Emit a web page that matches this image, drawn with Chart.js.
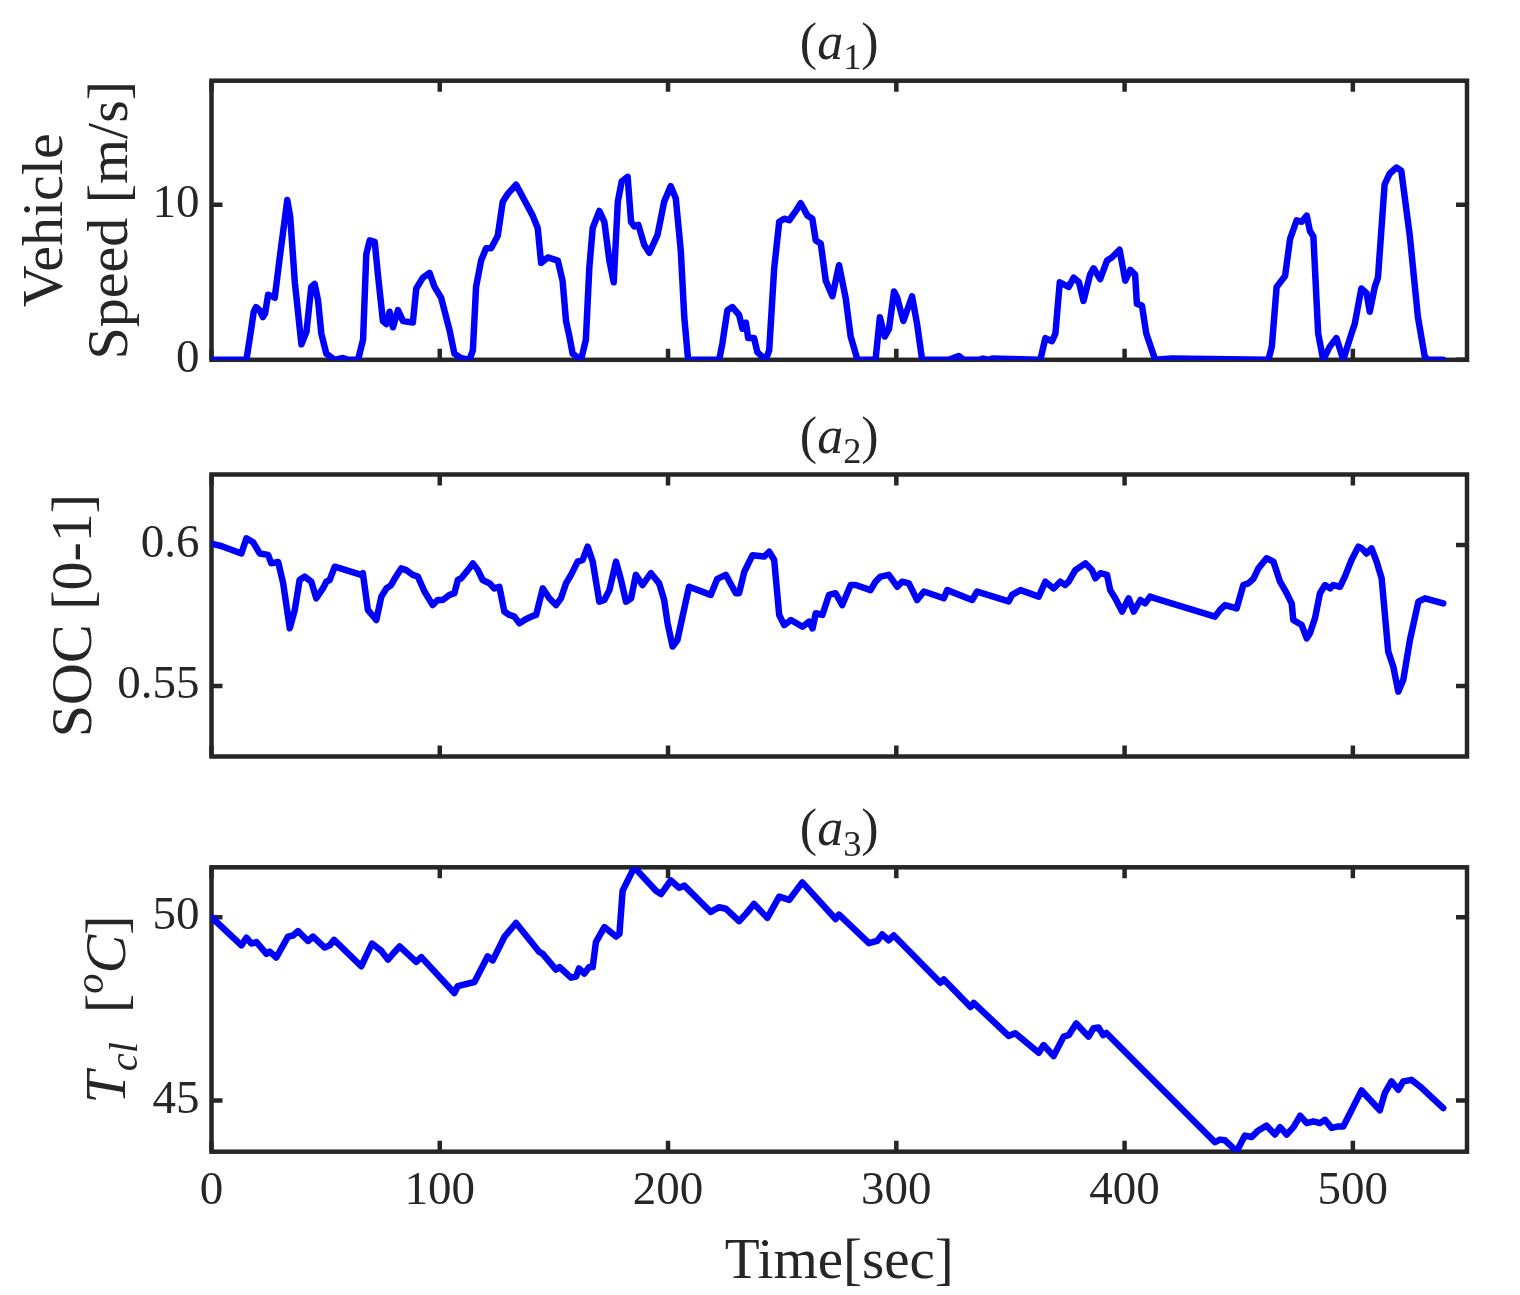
<!DOCTYPE html>
<html>
<head>
<meta charset="utf-8">
<script src="https://cdn.jsdelivr.net/npm/chart.js@4.4.1/dist/chart.umd.min.js"></script>
<style>
  html, body { margin: 0; padding: 0; background: #fff; }
  #page { position: relative; width: 1520px; height: 1295px; }
  .panel { position: absolute; left: 0; width: 1520px; }
</style>
</head>
<body>
<div id="page">
  <div class="panel" style="top:0;height:400px"><canvas id="chart01"></canvas></div>
  <div class="panel" style="top:400px;height:400px"><canvas id="chart02"></canvas></div>
  <div class="panel" style="top:800px;height:495px"><canvas id="chart03"></canvas></div>
</div>
<script>
// shared time axis
const timeTicks = [0, 100, 200, 300, 400, 500];

// (a1) vehicle speed [m/s]
const speedTime = [0, 15.3, 17.5, 18.5, 19.5, 21.1, 22.5, 23.5, 24.8, 26.5, 27.7, 29.9, 33.2, 34.5, 36.5, 39.4, 41.6, 43.7, 45.2, 46.7, 48.1, 50.3, 53.9, 57.6, 59.8, 64.2, 66.4, 67.8, 69.3, 71.5, 72.9, 75.1, 76.6, 78, 79.5, 81.7, 83.9, 88.2, 89.7, 92.6, 95.5, 97.7, 100.6, 104.3, 106.4, 109.4, 113, 114.5, 115.9, 118.1, 120.3, 122.5, 125.4, 127.6, 129.8, 133.4, 135.6, 137.8, 140.7, 142.9, 144.4, 147.3, 151.7, 153.8, 155.3, 156.8, 158.2, 161.9, 164, 165.5, 167, 169.9, 172.1, 174.3, 176.2, 178, 179.7, 182.3, 183.8, 185.2, 187, 189.6, 191.8, 195.4, 198.3, 201.2, 203.4, 205.6, 207.1, 208.8, 222.4, 223.8, 226, 228.2, 231.1, 232.6, 234.1, 235.1, 237.7, 239.1, 242.8, 244.3, 246.5, 248.7, 250.9, 253.1, 256, 258.1, 261.1, 263.2, 264.7, 266.9, 269.1, 272, 274.9, 277.8, 280, 283, 290.9, 292.8, 294.9, 296.8, 299, 300.4, 303.1, 306.9, 309.1, 311.3, 323, 327.3, 329.5, 336.1, 338, 340.5, 342, 363.1, 365.3, 368.2, 369.7, 371.6, 375.5, 377.7, 380, 382, 384.9, 386.4, 389.3, 392.3, 394.4, 397.8, 400.3, 402.5, 404.6, 405.4, 407.6, 409.5, 413.4, 420.7, 463, 464.5, 466.6, 470.3, 472.5, 475.4, 477.6, 479.8, 481.2, 482.7, 484.8, 487, 489.9, 492.8, 495.8, 499.4, 500.8, 503.7, 506, 507.4, 509.6, 511, 513.9, 516.1, 519.1, 521.2, 524.9, 528.5, 531.5, 532.9, 539.5];
const speedValue = [0, 0, 2.1, 3.1, 3.4, 3.2, 2.75, 3.0, 4.2, 4.1, 4.0, 6.6, 10.3, 9.2, 5.0, 1.0, 1.8, 4.7, 4.9, 3.8, 1.7, 0.4, 0, 0.12, 0, 0, 1.3, 6.8, 7.7, 7.6, 5.5, 2.5, 2.3, 3.1, 2.1, 3.2, 2.5, 2.4, 4.6, 5.3, 5.6, 4.7, 4.0, 1.9, 0.4, 0.1, 0, 0.6, 4.7, 6.4, 7.2, 7.2, 8.0, 10.2, 10.7, 11.3, 10.7, 10.1, 9.3, 8.5, 6.25, 6.6, 6.4, 5.1, 2.5, 1.5, 0.4, 0, 1.3, 5.9, 8.5, 9.6, 8.9, 6.4, 5.0, 10.2, 11.5, 11.8, 8.9, 8.6, 8.7, 7.4, 6.9, 8.05, 10.2, 11.2, 10.4, 7.0, 2.75, 0, 0, 1.05, 3.2, 3.4, 2.9, 2.0, 2.4, 1.4, 1.4, 0.5, 0, 0.6, 5.9, 8.9, 9.1, 9.0, 9.6, 10.1, 9.3, 9.1, 7.7, 7.5, 5.1, 4.1, 6.1, 4.0, 1.5, 0, 0, 2.75, 1.5, 2.0, 4.4, 4.0, 2.5, 4.1, 2.3, 0, 0, 0.25, 0, 0, 0.08, 0, 0.08, 0, 1.4, 1.2, 1.7, 5.0, 4.7, 5.3, 5.0, 3.8, 5.5, 5.9, 5.2, 6.4, 6.6, 7.1, 5.1, 5.8, 5.5, 3.6, 3.5, 1.7, 0, 0.08, 0, 0.85, 4.7, 5.4, 7.8, 9.0, 8.9, 9.3, 8.3, 7.95, 1.7, 0, 0.85, 1.4, 0, 1.7, 2.3, 4.6, 4.3, 3.1, 4.7, 5.3, 11.3, 12.0, 12.4, 12.2, 8.05, 2.75, 0.2, 0, 0];

// (a2) battery state of charge [0-1]
const socTime = [0, 5.1, 13.1, 15.3, 18.2, 21.1, 24.8, 26.2, 29.2, 31.4, 34.3, 36.5, 38.6, 40.8, 43.7, 45.9, 48.8, 50.3, 51.8, 54, 65.6, 66.3, 68.5, 72.2, 74.4, 76.6, 78.7, 80.2, 83.1, 85.3, 88.2, 90.4, 93.3, 96.9, 99.1, 101.3, 104.3, 106.4, 107.9, 109.4, 112.3, 114.5, 116.7, 118.8, 121.8, 123.9, 126.1, 128.3, 130.5, 132.7, 134.9, 137.1, 140, 142.2, 145.1, 148, 150.9, 153.1, 155.3, 157.5, 160.4, 162.6, 164.8, 167, 169.9, 172.1, 174.3, 177.2, 179.4, 181.6, 183.8, 185.9, 188.8, 192.5, 196.1, 198.3, 199.8, 202, 204.1, 209.2, 218.7, 221.6, 225.3, 229.7, 231.1, 233.4, 237, 242.1, 244.3, 246.5, 248.7, 250.9, 253.8, 258.9, 261.8, 263.3, 264.7, 267.6, 270.5, 273.4, 276.3, 280, 282.2, 288.7, 290.9, 293.1, 296.7, 300.4, 302.6, 305.5, 309.1, 312.1, 320.8, 322.3, 333.2, 335.4, 349.2, 350.7, 354.4, 362.4, 365.3, 368.9, 371.8, 374, 375.5, 378.4, 382.8, 385.7, 387.2, 389.4, 392.3, 393.7, 395.9, 398.9, 401.8, 404, 406.9, 409, 411.2, 413.4, 439.6, 441.8, 444, 449.1, 452, 454.2, 456.4, 458.6, 462.2, 465.2, 468.1, 471, 473.2, 473.9, 477.6, 479.8, 481.2, 483.4, 485.6, 487.8, 490, 491.4, 494.4, 496.5, 499.4, 502.4, 503.9, 506, 508.2, 510.4, 512.6, 515.5, 517.7, 519.9, 522.1, 525, 528.7, 531.6, 539.6];
const socValue = [0.6005, 0.5994, 0.597, 0.6024, 0.601, 0.597, 0.5965, 0.5935, 0.594, 0.5864, 0.5705, 0.577, 0.5876, 0.5888, 0.587, 0.5811, 0.5846, 0.587, 0.5876, 0.5923, 0.5894, 0.59, 0.577, 0.5734, 0.5817, 0.5846, 0.5858, 0.588, 0.5917, 0.5911, 0.5894, 0.5888, 0.5835, 0.5787, 0.5805, 0.5805, 0.5823, 0.5829, 0.5876, 0.5882, 0.5911, 0.5935, 0.5911, 0.5876, 0.5864, 0.5846, 0.5852, 0.5764, 0.5752, 0.5746, 0.5722, 0.5734, 0.5746, 0.5752, 0.5846, 0.5811, 0.5787, 0.5811, 0.5864, 0.5894, 0.5941, 0.5947, 0.5994, 0.5941, 0.5799, 0.5805, 0.584, 0.5941, 0.5876, 0.5799, 0.5811, 0.5894, 0.5858, 0.59, 0.5864, 0.5805, 0.5722, 0.564, 0.5663, 0.5852, 0.5823, 0.588, 0.5894, 0.5829, 0.5829, 0.5905, 0.5964, 0.5959, 0.5976, 0.5947, 0.5752, 0.5716, 0.5734, 0.571, 0.5728, 0.5704, 0.5758, 0.5752, 0.5823, 0.5829, 0.5787, 0.5858, 0.5858, 0.584, 0.587, 0.5888, 0.5894, 0.5852, 0.587, 0.5864, 0.5805, 0.5835, 0.5811, 0.584, 0.5805, 0.5835, 0.58, 0.5823, 0.584, 0.5817, 0.587, 0.5846, 0.587, 0.5858, 0.587, 0.5911, 0.5935, 0.5911, 0.5882, 0.59, 0.5894, 0.584, 0.5811, 0.5764, 0.5811, 0.5764, 0.5805, 0.5793, 0.5817, 0.5811, 0.5746, 0.577, 0.5787, 0.5775, 0.5858, 0.5864, 0.588, 0.5917, 0.5953, 0.5941, 0.587, 0.5829, 0.5793, 0.5734, 0.5716, 0.5669, 0.5687, 0.574, 0.5829, 0.5858, 0.5846, 0.5858, 0.5852, 0.5888, 0.5947, 0.5994, 0.5988, 0.597, 0.5988, 0.5941, 0.5882, 0.5622, 0.5569, 0.548, 0.5522, 0.5663, 0.5799, 0.5811, 0.5793];

// (a3) coolant temperature [oC]
const coolantTime = [0, 13.1, 15.3, 17.5, 19.7, 24.1, 25.5, 28.4, 33.5, 35.7, 37.9, 42.3, 44.5, 49.6, 51.8, 53.7, 65.6, 70.3, 74.4, 77.3, 79.5, 82.4, 89.7, 91.9, 106.4, 107.9, 115.2, 121, 123.2, 128.3, 133.4, 143.6, 145.1, 150.9, 152.4, 157.5, 159.7, 161, 163.3, 165.5, 167, 168.4, 172.1, 177.2, 178.7, 180.1, 185.2, 194.7, 196.9, 201.2, 204.9, 207.1, 218.7, 220.2, 222.4, 225.3, 231.1, 234.1, 237.7, 243.5, 248.7, 253.1, 258.8, 273.4, 274.9, 288, 291.6, 293.8, 296.7, 298.9, 319.3, 320.8, 332.5, 333.9, 349.2, 352.1, 362.4, 364.5, 368.9, 373.3, 375.5, 378.8, 384.2, 386.4, 388.6, 390.6, 392, 439.6, 441.8, 444, 449.1, 452.7, 455.6, 458.6, 462.2, 465.9, 468.1, 471, 474, 476.9, 479.8, 482.7, 485.6, 487.8, 490.7, 493.6, 495.8, 503.8, 511.8, 514, 516.9, 519.9, 522.1, 525.7, 529.4, 539.6];
const coolantValue = [50.0, 49.23, 49.44, 49.28, 49.32, 49.0, 49.06, 48.9, 49.47, 49.5, 49.62, 49.35, 49.47, 49.17, 49.23, 49.38, 48.66, 49.28, 49.08, 48.84, 49.0, 49.2, 48.78, 48.91, 47.93, 48.12, 48.23, 48.93, 48.82, 49.46, 49.84, 49.05, 49.0, 48.57, 48.64, 48.35, 48.38, 48.6, 48.46, 48.64, 48.64, 49.32, 49.73, 49.47, 49.54, 50.72, 51.36, 50.72, 50.63, 51.0, 50.8, 50.86, 50.14, 50.2, 50.27, 50.23, 49.89, 50.09, 50.36, 49.98, 50.56, 50.47, 50.95, 49.95, 50.07, 49.29, 49.35, 49.53, 49.37, 49.5, 48.21, 48.3, 47.55, 47.66, 46.76, 46.83, 46.3, 46.51, 46.21, 46.74, 46.78, 47.1, 46.74, 46.97, 46.99, 46.78, 46.84, 43.86, 43.93, 43.91, 43.61, 44.04, 44.0, 44.18, 44.31, 44.07, 44.27, 44.07, 44.27, 44.58, 44.38, 44.43, 44.38, 44.47, 44.25, 44.29, 44.29, 45.27, 44.73, 45.2, 45.52, 45.29, 45.52, 45.56, 45.38, 44.79];

const speedTicks = [0, 10];
const socTicks = [0.55, 0.6];
const coolantTicks = [45, 50];

const SERIF = '"Liberation Serif", "Times New Roman", serif';
const INK = '#262626';
const TICK_LEN = 11;

// text made of runs: {t, it, sub, sup}
function runFont(run, size) {
  const s = (run.sub || run.sup) ? size * 0.7 : size;
  return (run.it ? 'italic ' : '') + s + 'px ' + SERIF;
}

function drawRuns(ctx, runs, size, cx, y) {
  let w = 0;
  runs.forEach(r => { ctx.font = runFont(r, size); w += ctx.measureText(r.t).width; });
  let x = cx - w / 2;
  runs.forEach(r => {
    ctx.font = runFont(r, size);
    const dy = r.sub ? size * 0.2 : (r.sup ? -size * 0.38 : 0);
    ctx.fillText(r.t, x, y + dy);
    x += ctx.measureText(r.t).width;
  });
}

const matlabAxes = {
  id: 'matlabAxes',
  beforeDatasetsDraw(chart) {
    const { ctx, chartArea: a, scales } = chart;
    ctx.save();
    ctx.strokeStyle = INK;
    ctx.lineWidth = 4.5;
    ctx.beginPath();
    scales.x.ticks.forEach(t => {
      const px = scales.x.getPixelForValue(t.value);
      ctx.moveTo(px, a.bottom); ctx.lineTo(px, a.bottom - TICK_LEN);
      ctx.moveTo(px, a.top); ctx.lineTo(px, a.top + TICK_LEN);
    });
    scales.y.ticks.forEach(t => {
      const py = scales.y.getPixelForValue(t.value);
      ctx.moveTo(a.left, py); ctx.lineTo(a.left + TICK_LEN, py);
      ctx.moveTo(a.right, py); ctx.lineTo(a.right - TICK_LEN, py);
    });
    ctx.stroke();
    ctx.lineJoin = 'miter';
    ctx.strokeRect(a.left, a.top, a.right - a.left, a.bottom - a.top);
    ctx.restore();
  },
  afterDraw(chart, args, opts) {
    const { ctx, chartArea: a } = chart;
    const cx = (a.left + a.right) / 2;
    const cy = (a.top + a.bottom) / 2;
    ctx.save();
    ctx.fillStyle = INK;
    ctx.textBaseline = 'alphabetic';
    if (opts.title) drawRuns(ctx, opts.title, 52, cx, a.top - 22);
    (opts.yLabel || []).forEach(line => {
      ctx.save();
      ctx.translate(line.x, cy);
      ctx.rotate(-Math.PI / 2);
      drawRuns(ctx, line.runs, 58, 0, 0);
      ctx.restore();
    });
    if (opts.xLabel) drawRuns(ctx, opts.xLabel, 57, cx, a.bottom + 126);
    ctx.restore();
  },
};

var TracePage = function () {
  return {};
};

TracePage.JS = (function () {
  function points(xs, ys) {
    return xs.map((x, i) => ({ x: x, y: ys[i] }));
  }

  function drawPanel(id, cfg) {
    const ctx = document.getElementById(id).getContext('2d');
    const H = cfg.height;
    return new Chart(ctx, {
      type: 'line',
      data: {
        datasets: [
          {
            data: points(cfg.time, cfg.values),
            borderColor: '#0000ff',
            borderWidth: 6.5,
            pointRadius: 0,
            tension: 0,
            borderJoinStyle: 'round',
            borderCapStyle: 'round',
          },
        ],
      },
      options: {
        responsive: true,
        maintainAspectRatio: false,
        animation: false,
        layout: { padding: { top: cfg.top, right: 53, left: 0, bottom: 0 } },
        plugins: {
          legend: { display: false },
          tooltip: { enabled: false },
          matlabAxes: { title: cfg.title, yLabel: cfg.yLabel, xLabel: cfg.xLabel },
        },
        scales: {
          x: {
            type: 'linear',
            min: 0,
            max: 550,
            grid: { display: false, drawTicks: false },
            border: { display: false },
            afterBuildTicks: s => { s.ticks = timeTicks.map(v => ({ value: v })); },
            afterFit: s => { s.height = H - cfg.bottom; },
            ticks: {
              display: cfg.showTime,
              color: INK,
              padding: 12,
              maxRotation: 0,
              font: { family: SERIF, size: 47 },
            },
          },
          y: {
            min: cfg.yMin,
            max: cfg.yMax,
            grid: { display: false, drawTicks: false },
            border: { display: false },
            afterBuildTicks: s => { s.ticks = cfg.yTicks.map(v => ({ value: v })); },
            afterFit: s => { s.width = 211.5; },
            ticks: {
              color: INK,
              padding: 12,
              font: { family: SERIF, size: 47 },
              callback: v => String(v),
            },
          },
        },
      },
      plugins: [matlabAxes],
    });
  }

  return {
    init() {
      drawPanel('chart01', {
        height: 400, top: 80.7, bottom: 363.3,
        time: speedTime, values: speedValue,
        yMin: 0, yMax: 18, yTicks: speedTicks, showTime: false,
        title: [{ t: '(' }, { t: 'a', it: true }, { t: '1', sub: true }, { t: ')' }],
        yLabel: [
          { x: 62, runs: [{ t: 'Vehicle' }] },
          { x: 127, runs: [{ t: 'Speed [m/s]' }] },
        ],
      });
      drawPanel('chart02', {
        height: 400, top: 74.5, bottom: 356.5,
        time: socTime, values: socValue,
        yMin: 0.525, yMax: 0.625, yTicks: socTicks, showTime: false,
        title: [{ t: '(' }, { t: 'a', it: true }, { t: '2', sub: true }, { t: ')' }],
        yLabel: [{ x: 91, runs: [{ t: 'SOC [0-1]' }] }],
      });
      drawPanel('chart03', {
        height: 495, top: 67.3, bottom: 351.7,
        time: coolantTime, values: coolantValue,
        yMin: 43.6, yMax: 51.36, yTicks: coolantTicks, showTime: true,
        title: [{ t: '(' }, { t: 'a', it: true }, { t: '3', sub: true }, { t: ')' }],
        yLabel: [{
          x: 125,
          runs: [{ t: 'T', it: true }, { t: 'cl', it: true, sub: true }, { t: '  [' }, { t: 'o', it: true, sup: true }, { t: 'C', it: true }, { t: ']' }],
        }],
        xLabel: [{ t: 'Time[sec]' }],
      });
    },
  };
})();

TracePage.JS.init();
</script>
</body>
</html>
